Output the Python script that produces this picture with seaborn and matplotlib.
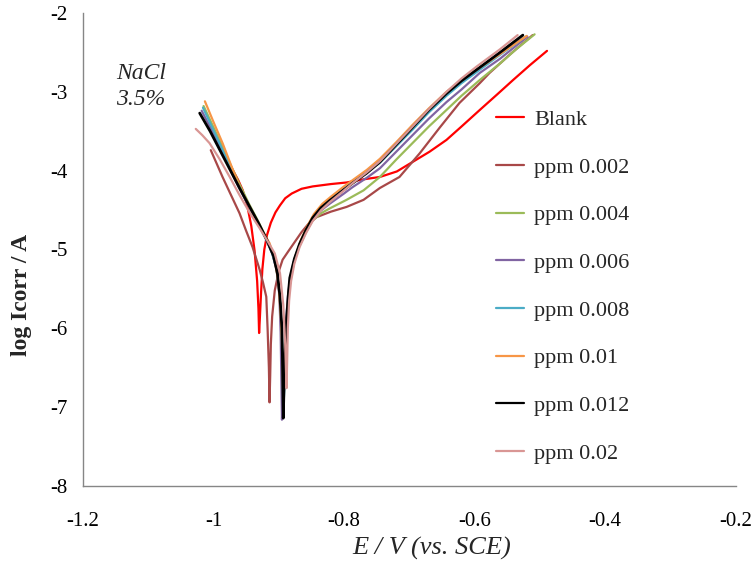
import matplotlib
matplotlib.use("Agg")
import matplotlib.pyplot as plt
import seaborn as sns
import pandas as pd
from matplotlib.lines import Line2D

# ---------------- data ----------------
series_names = ["Blank", "ppm 0.002", "ppm 0.004", "ppm 0.006",
                "ppm 0.008", "ppm 0.01", "ppm 0.012", "ppm 0.02"]

blank_E = [-1.005, -0.990, -0.975, -0.962, -0.955, -0.948, -0.942, -0.937, -0.933, -0.931, -0.930,
           -0.929, -0.927, -0.925, -0.922, -0.918, -0.912, -0.905, -0.898, -0.890, -0.880, -0.865,
           -0.848, -0.820, -0.796, -0.770, -0.745, -0.719, -0.695, -0.669, -0.643, -0.620, -0.592,
           -0.565, -0.541, -0.515, -0.489]
blank_L = [-3.45, -3.68, -3.92, -4.12, -4.25, -4.45, -4.70, -5.01, -5.40, -5.75, -6.06,
           -5.90, -5.55, -5.25, -5.00, -4.82, -4.66, -4.53, -4.44, -4.35, -4.29, -4.23,
           -4.20, -4.17, -4.15, -4.11, -4.08, -4.01, -3.89, -3.76, -3.61, -3.44, -3.23,
           -3.03, -2.85, -2.66, -2.48]

p002_E = [-1.004, -0.995, -0.986, -0.973, -0.960, -0.950, -0.940, -0.929, -0.924, -0.919, -0.917,
          -0.915, -0.914, -0.913, -0.912, -0.910, -0.906, -0.900, -0.894, -0.885, -0.875, -0.865,
          -0.855, -0.842, -0.820, -0.796, -0.770, -0.745, -0.715, -0.684, -0.653, -0.623, -0.592,
          -0.577, -0.545, -0.511]
p002_L = [-3.74, -3.91, -4.08, -4.31, -4.54, -4.76, -4.97, -5.26, -5.42, -5.60, -6.00,
          -6.50, -6.94, -6.60, -6.20, -5.85, -5.52, -5.28, -5.13, -5.02, -4.90, -4.78,
          -4.68, -4.59, -4.52, -4.46, -4.37, -4.22, -4.08, -3.78, -3.45, -3.14, -2.89,
          -2.76, -2.52, -2.28]

p004_E = [-1.015, -1.001, -0.987, -0.973, -0.959, -0.945, -0.931, -0.920, -0.910, -0.903, -0.899,
          -0.896, -0.894, -0.893, -0.891, -0.889, -0.887, -0.884, -0.881, -0.875, -0.867, -0.857,
          -0.848, -0.835, -0.822, -0.796, -0.770, -0.745, -0.720, -0.695, -0.670, -0.643, -0.620,
          -0.592, -0.561, -0.535, -0.508]
p004_L = [-3.18, -3.43, -3.68, -3.94, -4.19, -4.43, -4.65, -4.84, -5.03, -5.24, -5.55,
          -5.95, -6.40, -6.95, -6.60, -6.15, -5.80, -5.50, -5.32, -5.10, -4.93, -4.76,
          -4.63, -4.54, -4.48, -4.37, -4.25, -4.08, -3.86, -3.65, -3.44, -3.23, -3.05,
          -2.85, -2.64, -2.45, -2.27]

p006_E = [-1.018, -1.003, -0.989, -0.975, -0.961, -0.946, -0.931, -0.920, -0.910, -0.903, -0.899,
          -0.897, -0.896, -0.895, -0.893, -0.891, -0.889, -0.886, -0.883, -0.877, -0.869, -0.859,
          -0.849, -0.836, -0.822, -0.800, -0.787, -0.765, -0.745, -0.720, -0.695, -0.670, -0.643,
          -0.620, -0.592, -0.561, -0.519]
p006_L = [-3.24, -3.48, -3.72, -3.97, -4.21, -4.45, -4.68, -4.86, -5.05, -5.26, -5.58,
          -6.05, -6.60, -7.16, -6.85, -6.35, -5.95, -5.60, -5.40, -5.16, -4.97, -4.79,
          -4.64, -4.51, -4.42, -4.29, -4.21, -4.09, -3.97, -3.76, -3.55, -3.34, -3.13,
          -2.97, -2.76, -2.58, -2.30]

p008_E = [-1.016, -1.002, -0.988, -0.974, -0.960, -0.946, -0.932, -0.921, -0.911, -0.904, -0.899,
          -0.896, -0.894, -0.893, -0.891, -0.889, -0.887, -0.884, -0.881, -0.875, -0.867, -0.857,
          -0.847, -0.834, -0.821, -0.800, -0.786, -0.765, -0.745, -0.720, -0.695, -0.670, -0.643,
          -0.620, -0.597, -0.561, -0.522]
p008_L = [-3.20, -3.45, -3.70, -3.96, -4.21, -4.44, -4.66, -4.84, -5.02, -5.22, -5.52,
          -5.95, -6.45, -7.05, -6.70, -6.25, -5.85, -5.52, -5.33, -5.11, -4.92, -4.74,
          -4.59, -4.46, -4.37, -4.24, -4.15, -4.02, -3.90, -3.69, -3.48, -3.26, -3.05,
          -2.89, -2.75, -2.53, -2.30]

p010_E = [-1.013, -1.000, -0.986, -0.973, -0.960, -0.947, -0.934, -0.924, -0.914, -0.906, -0.900,
          -0.896, -0.894, -0.893, -0.891, -0.889, -0.887, -0.884, -0.880, -0.874, -0.866, -0.856,
          -0.846, -0.833, -0.820, -0.800, -0.785, -0.765, -0.745, -0.720, -0.695, -0.670, -0.643,
          -0.620, -0.597, -0.561, -0.520]
p010_L = [-3.12, -3.38, -3.65, -3.93, -4.21, -4.42, -4.63, -4.78, -4.92, -5.12, -5.45,
          -5.95, -6.45, -7.00, -6.60, -6.15, -5.80, -5.50, -5.30, -5.08, -4.88, -4.70,
          -4.55, -4.42, -4.33, -4.20, -4.11, -3.99, -3.85, -3.64, -3.42, -3.21, -3.00,
          -2.85, -2.72, -2.52, -2.29]

p012_E = [-1.021, -1.005, -0.990, -0.975, -0.960, -0.945, -0.930, -0.918, -0.908, -0.902, -0.898,
          -0.895, -0.894, -0.893, -0.892, -0.890, -0.888, -0.885, -0.883, -0.876, -0.868, -0.858,
          -0.848, -0.835, -0.822, -0.800, -0.787, -0.765, -0.745, -0.720, -0.695, -0.670, -0.643,
          -0.620, -0.597, -0.561, -0.526]
p012_L = [-3.27, -3.50, -3.74, -3.98, -4.22, -4.45, -4.68, -4.88, -5.08, -5.30, -5.60,
          -6.00, -6.50, -7.14, -6.80, -6.30, -5.90, -5.55, -5.36, -5.12, -4.93, -4.75,
          -4.60, -4.47, -4.38, -4.24, -4.16, -4.03, -3.89, -3.67, -3.45, -3.23, -3.02,
          -2.86, -2.72, -2.50, -2.28]

p020_E = [-1.027, -1.017, -1.006, -0.990, -0.975, -0.960, -0.944, -0.930, -0.918, -0.906, -0.898,
          -0.893, -0.890, -0.888, -0.887, -0.886, -0.884, -0.881, -0.876, -0.868, -0.858, -0.848,
          -0.835, -0.822, -0.800, -0.787, -0.765, -0.745, -0.720, -0.695, -0.670, -0.643, -0.620,
          -0.597, -0.561, -0.534]
p020_L = [-3.47, -3.55, -3.65, -3.86, -4.08, -4.31, -4.54, -4.72, -4.88, -5.05, -5.30,
          -5.70, -6.20, -6.76, -6.40, -6.00, -5.65, -5.40, -5.18, -4.97, -4.79, -4.64,
          -4.50, -4.40, -4.25, -4.16, -4.02, -3.88, -3.66, -3.44, -3.22, -3.00, -2.83,
          -2.68, -2.46, -2.28]

series_E = [blank_E, p002_E, p004_E, p006_E, p008_E, p010_E, p012_E, p020_E]
series_L = [blank_L, p002_L, p004_L, p006_L, p008_L, p010_L, p012_L, p020_L]

colors = ["#FF0000", "#A84848", "#9BBB59", "#8064A2",
          "#4BACC6", "#F79646", "#000000", "#D99694"]
widths = [1.6, 1.6, 1.6, 1.6, 1.6, 1.6, 2.0, 1.6]

x_ticks = [-1.2, -1.0, -0.8, -0.6, -0.4, -0.2]
x_ticklabels = ["-1.2", "-1", "-0.8", "-0.6", "-0.4", "-0.2"]
y_ticks = [-8, -7, -6, -5, -4, -3, -2]

# ---------------- build long table ----------------
rows = []
for name, E, L in zip(series_names, series_E, series_L):
    for i, (e, l) in enumerate(zip(E, L)):
        rows.append({"series": name, "E": e, "logI": l, "idx": i})
df = pd.DataFrame(rows)

sns.set_theme(style="white")
plt.rcParams["font.family"] = ["Liberation Serif", "DejaVu Serif"]

fig = plt.figure(figsize=(7.53, 5.67), dpi=100)
ax = fig.add_axes([0.110, 0.143, 0.867, 0.834])

for name, c, lw in zip(series_names, colors, widths):
    sub = df[df["series"] == name]
    sns.lineplot(data=sub, x="E", y="logI", sort=False, estimator=None,
                 color=c, linewidth=lw, ax=ax, legend=False)

ax.set_xlim(-1.2, -0.2)
ax.set_ylim(-8, -2)
ax.set_xticks(x_ticks)
ax.set_xticklabels(x_ticklabels)
ax.set_yticks(y_ticks)
ax.set_yticklabels([str(v) for v in y_ticks])

for s in ["top", "right"]:
    ax.spines[s].set_visible(False)
for s in ["left", "bottom"]:
    ax.spines[s].set_color("#868686")
    ax.spines[s].set_linewidth(1.0)

ax.tick_params(axis="both", which="major", direction="inout", length=6,
               width=1.0, color="#868686", labelsize=15, labelcolor="#000000")
ax.tick_params(axis="y", pad=8)
ax.tick_params(axis="x", pad=16)

ax.set_xlabel("E / V (vs. SCE)", fontsize=19, fontstyle="italic")
ax.xaxis.set_label_coords(0.534, -0.108)
ax.set_ylabel("log Icorr / A", fontsize=17, fontweight="bold")
ax.yaxis.set_label_coords(-0.078, 0.404)

ax.text(-1.111, -2.93, "NaCl\n3.5%", fontsize=17, fontstyle="italic",
        ha="center", va="center", linespacing=1.3)

handles = [Line2D([0], [0], color=c, lw=1.6) for c in colors]
leg = ax.legend(handles, series_names, loc="upper left",
                bbox_to_anchor=(0.620, 0.815), frameon=False, fontsize=16,
                handlelength=1.26, handletextpad=0.45, labelspacing=1.22,
                borderaxespad=0.0)

fig.savefig("out.png", dpi=100)
